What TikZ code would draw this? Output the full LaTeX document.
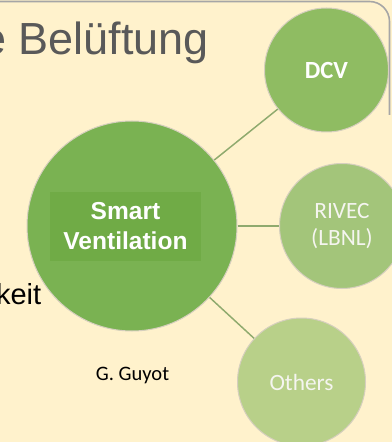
\documentclass[tikz,border=0pt]{standalone}
\usepackage{fontspec}
\setmainfont{Liberation Sans}
\newfontfamily\calibri{Carlito}

\tikzset{
	bubble/.style={circle, inner sep=0pt, align=center, draw={rgb, 255:red, 214; green, 207; blue, 190 }, line width=0.75pt},
	link/.style={draw={rgb, 255:red, 143; green, 170; blue, 110 }, line width=1.1pt},
}

\begin{document}
\begin{tikzpicture}[x=0.75pt,y=0.75pt,yscale=-1,xscale=1]
	\useasboundingbox (0,0) rectangle (392,442);
	\clip (0,0) rectangle (392,442);
	
	%Shape: Slide background
	\fill [fill={rgb, 255:red, 255; green, 242; blue, 204 }] (0,0) rectangle (392,442);
	%Shape: Slide frame
	\draw [color={rgb, 255:red, 166; green, 166; blue, 166 }, line width=1.2pt, rounded corners=15] (-5,1.5) -- (389.5,1.5) -- (389.5,115);
	
	%Shape: Circle (centre)
	\node (smart) [bubble, minimum size=157.5pt, fill={rgb, 255:red, 122; green, 178; blue, 82 }] at (132,226) {};
	%Shape: Circle (top)
	\node (dcv) [bubble, minimum size=93pt, fill={rgb, 255:red, 143; green, 188; blue, 98 }, text=white, font=\calibri\bfseries\fontsize{18.5}{22}\selectfont] at (326.5,70) {DCV};
	%Shape: Circle (middle)
	\node (rivec) [bubble, minimum size=93.75pt, fill={rgb, 255:red, 163; green, 197; blue, 122 }, text={rgb, 255:red, 245; green, 245; blue, 240 }, font=\calibri\fontsize{17.5}{20.5}\selectfont] at (342,226) {RIVEC\\(LBNL)};
	%Shape: Circle (bottom)
	\node (others) [bubble, minimum size=96pt, fill={rgb, 255:red, 184; green, 208; blue, 137 }, text={rgb, 255:red, 245; green, 245; blue, 240 }, font=\calibri\fontsize{17.5}{21}\selectfont] at (301.5,382) {Others};
	
	%Straight Lines
	\draw [link] (smart) -- (dcv);
	\draw [link] (smart) -- (rivec);
	\draw [link] (smart) -- (others);
	
	%Shape: Rectangle
	\node (smartlabel) [fill={rgb, 255:red, 112; green, 171; blue, 70 }, minimum width=113.25pt, minimum height=51.75pt, inner sep=0pt, align=center, text=white, font=\bfseries\fontsize{18.4}{22.5}\selectfont] at (125.5,226.5) {Smart\\Ventilation};
	
	% Text Node
	\node (title) [anchor=base west, inner sep=0pt, text={rgb, 255:red, 89; green, 89; blue, 89 }, font=\fontsize{33.75}{40}\selectfont] at (-19,55) {e Belüftung};
	% Text Node
	\node (keit) [anchor=base east, inner sep=0pt, font=\fontsize{21.75}{26}\selectfont] at (41.5,304.3) {keit};
	% Text Node
	\node (author) [anchor=base, inner sep=0pt, font=\calibri\fontsize{15.4}{18}\selectfont] at (132.5,380) {G. Guyot};
	
\end{tikzpicture}
\end{document}
